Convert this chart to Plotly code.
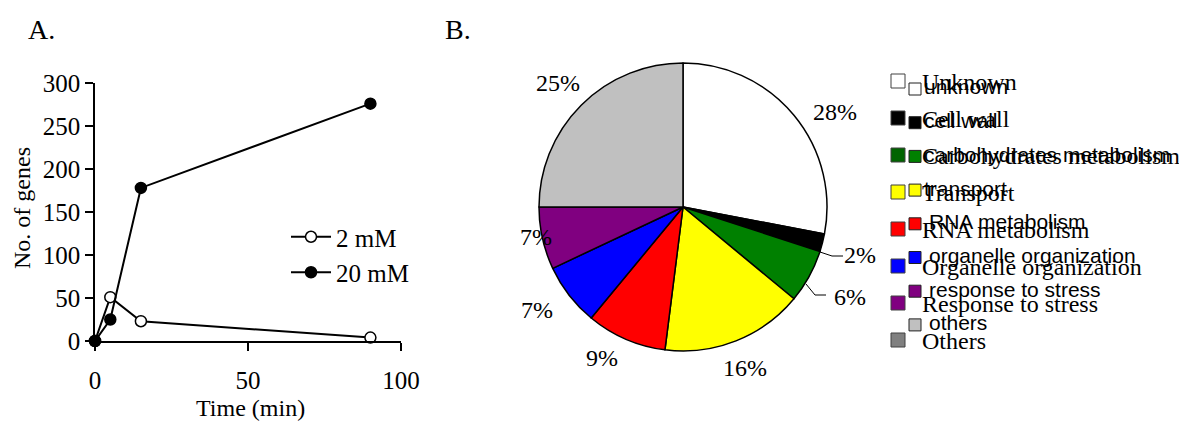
import plotly.graph_objects as go

W, H = 1179, 423

# ---- Panel A data ----
time_min = [0, 5, 15, 90]
genes_2mM = [0, 51, 23, 4]
genes_20mM = [0, 25, 178, 276]
series_names = ["2 mM", "20 mM"]

# ---- Panel B data ----
categories = ["Unknown", "Cell wall", "Carbohydrates metabolism", "Transport",
              "RNA metabolism", "Organelle organization", "Response to stress", "Others"]
categories_alt = ["unknown", "cell wall", "carbohydrates metabolism", "transport",
                  "RNA metabolism", "organelle organization", "response to stress", "others"]
shares = [28, 2, 6, 16, 9, 7, 7, 25]
slice_colors = ["#ffffff", "#000000", "#008000", "#ffff00", "#ff0000", "#0000ff", "#800080", "#c0c0c0"]
legend_colors = ["#ffffff", "#000000", "#006400", "#ffff00", "#ff0000", "#0000ff", "#800080", "#808080"]


def px(x):
    return x / W


def py(y):
    return 1 - y / H


SERIF = "Liberation Serif, Times New Roman, serif"
SANS = "Liberation Sans, Arial, sans-serif"

fig = go.Figure()

fig.add_trace(go.Scatter(
    x=time_min, y=genes_2mM, name=series_names[0], mode="lines+markers",
    line=dict(color="black", width=2),
    marker=dict(symbol="circle", size=11, color="white", line=dict(color="black", width=1.5)),
    cliponaxis=False, legendgroup="a"))
fig.add_trace(go.Scatter(
    x=time_min, y=genes_20mM, name=series_names[1], mode="lines+markers",
    line=dict(color="black", width=2),
    marker=dict(symbol="circle", size=11, color="black", line=dict(color="black", width=1.5)),
    cliponaxis=False, legendgroup="b"))

# pie, centred at (683, 207) px, radius ~144 px
cx, cy, r = 683, 207, 144
fig.add_trace(go.Pie(
    labels=categories, values=shares, sort=False, direction="clockwise", rotation=0,
    marker=dict(colors=slice_colors, line=dict(color="black", width=1.5)),
    textinfo="none", hoverinfo="label+percent", showlegend=False,
    domain=dict(x=[px(cx - r), px(cx + r)], y=[py(cy + r), py(cy - r)])))

fig.update_layout(
    width=W, height=H, margin=dict(l=0, r=0, t=0, b=0, pad=0, autoexpand=False),
    paper_bgcolor="white", plot_bgcolor="white",
    font=dict(family=SERIF, size=24, color="black"),
    xaxis=dict(domain=[px(95), px(401)], range=[0, 100], tickvals=[0, 50, 100],
               showline=True, linecolor="black", linewidth=1.5, ticks="outside",
               ticklen=8, tickwidth=1.5, tickcolor="black", showgrid=False, zeroline=False,
               ticklabelstandoff=8, tickfont=dict(size=25), automargin=False),
    yaxis=dict(domain=[py(341), py(83)], range=[0, 300], tickvals=[0, 50, 100, 150, 200, 250, 300],
               showline=True, linecolor="black", linewidth=1.5, ticks="outside",
               ticklen=8, tickwidth=1.5, tickcolor="black", showgrid=False, zeroline=False,
               tickfont=dict(size=25), automargin=False),
    legend=dict(x=px(286), y=py(214), xanchor="left", yanchor="top", bgcolor="rgba(0,0,0,0)",
                font=dict(family=SERIF, size=25), tracegroupgap=0, itemwidth=40),
)

ann = []
ann.append(dict(text="A.", x=px(26), y=py(30), xanchor="left", yanchor="middle",
                font=dict(size=28)))
ann.append(dict(text="B.", x=px(443), y=py(30), xanchor="left", yanchor="middle",
                font=dict(size=28)))
ann.append(dict(text="Time (min)", x=px(250), y=py(408), xanchor="center", yanchor="middle",
                font=dict(size=24)))
ann.append(dict(text="No. of genes", x=px(22), y=py(208), xanchor="center", yanchor="middle",
                textangle=-90, font=dict(size=24)))

# percentage labels (text from data)
label_pos = [(835, 112), (860, 255), (850, 297), (745, 368), (602, 358), (537, 310), (536, 237), (558, 83)]
for v, (lx, ly) in zip(shares, label_pos):
    ann.append(dict(text=f"{v}%", x=px(lx), y=py(ly), xanchor="center", yanchor="middle",
                    font=dict(size=24)))

shapes = []
# leader lines for small slices
shapes.append(dict(type="path", xref="paper", yref="paper",
                   path=f"M {px(820)} {py(252)} L {px(832)} {py(256)} L {px(843)} {py(256)}",
                   line=dict(color="black", width=1)))
shapes.append(dict(type="path", xref="paper", yref="paper",
                   path=f"M {px(806)} {py(284)} L {px(815)} {py(295)} L {px(826)} {py(295)}",
                   line=dict(color="black", width=1)))

# legend, serif layer
for i, (name, col) in enumerate(zip(categories, legend_colors)):
    yc = 81 + i * 37
    shapes.append(dict(type="rect", xref="paper", yref="paper",
                       x0=px(891), x1=px(905), y0=py(yc + 7), y1=py(yc - 7),
                       fillcolor=col, line=dict(color="#404040", width=1)))
    ann.append(dict(text=name, x=px(920), y=py(yc + 1), xanchor="left", yanchor="middle",
                    font=dict(family=SERIF, size=24)))
# legend, sans layer
for i, (name, col) in enumerate(zip(categories_alt, slice_colors)):
    yc = 89 + i * 33.7
    shapes.append(dict(type="rect", xref="paper", yref="paper",
                       x0=px(909), x1=px(921), y0=py(yc + 6), y1=py(yc - 6),
                       fillcolor=col, line=dict(color="#202020", width=1)))
    ann.append(dict(text=name, x=px(922 if i < 4 else 927), y=py(yc - 2), xanchor="left",
                    yanchor="middle", font=dict(family=SANS, size=21)))

for a in ann:
    a.setdefault("xref", "paper")
    a.setdefault("yref", "paper")
    a["showarrow"] = False
fig.update_layout(annotations=ann, shapes=shapes)

fig.write_html(
    "out.html",
    config={"displayModeBar": False},
    post_script="document.body.style.margin='0';document.body.style.padding='0';"
                "document.documentElement.style.overflow='hidden';",
)
